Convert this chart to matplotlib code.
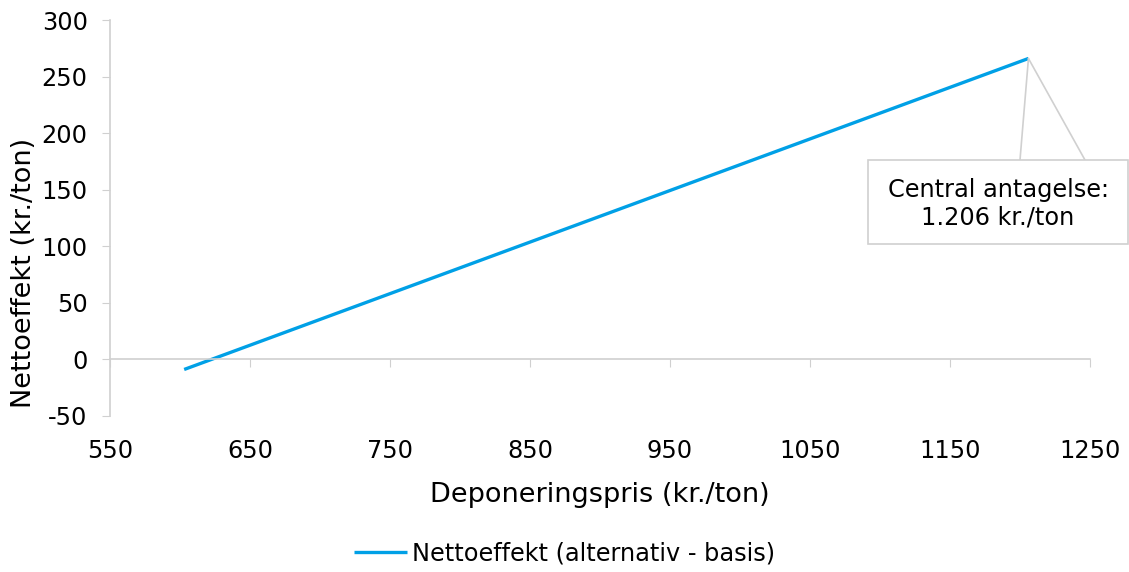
import matplotlib.pyplot as plt
from matplotlib.patches import Rectangle

# Net effect as a function of landfill price
deponeringspris = [603, 1206]
nettoeffekt = [-9, 266]
central_pris = 1206
central_effekt = 266

x_ticks = [550, 650, 750, 850, 950, 1050, 1150, 1250]
y_ticks = [-50, 0, 50, 100, 150, 200, 250, 300]

line_color = "#00a0e6"
grid_gray = "#d0d0d0"
plt.rcParams["font.family"] = "DejaVu Sans"
plt.rcParams["axes.unicode_minus"] = False

fig = plt.figure(figsize=(11.29, 5.72), dpi=100)
ax = fig.add_axes([0.0974, 0.273, 0.8681, 0.692])

ax.plot(deponeringspris, nettoeffekt, color=line_color, linewidth=2.4,
        solid_capstyle="butt", label="Nettoeffekt (alternativ - basis)")

ax.set_xlim(550, 1250)
ax.set_ylim(-50, 300)
ax.set_yticks(y_ticks)
ax.set_xticks(x_ticks)

# x axis line sits at zero, its labels stay at the bottom
for side in ["top", "right"]:
    ax.spines[side].set_visible(False)
ax.spines["left"].set_color(grid_gray)
ax.spines["bottom"].set_position(("data", 0))
ax.spines["bottom"].set_color(grid_gray)
ax.tick_params(axis="x", colors=grid_gray, length=6, labelbottom=False)
ax.tick_params(axis="y", colors=grid_gray, length=6, labelcolor="black",
               labelsize=17.3, pad=10)
ax.spines["left"].set_linewidth(1.2)
ax.spines["bottom"].set_linewidth(1.2)

sec = ax.secondary_xaxis("bottom")
sec.set_xticks(x_ticks)
sec.spines["bottom"].set_visible(False)
sec.tick_params(length=0, labelsize=17.3, labelcolor="black", pad=17)
sec.set_xlabel("Deponeringspris (kr./ton)", fontsize=19.5, labelpad=13)

ax.set_ylabel("Nettoeffekt (kr./ton)", fontsize=19.5)
ax.yaxis.set_label_coords(-0.074, 0.36)

# callout for the central assumption
box = Rectangle((0.7688, 0.5734), 0.2303, 0.1469, transform=fig.transFigure,
                facecolor="white", edgecolor=grid_gray, linewidth=1.2)
fig.patches.append(box)
fig.text(0.884, 0.6434, "Central antagelse:\n1.206 kr./ton", ha="center",
         va="center", fontsize=17.3, linespacing=1.2)
for px in [1020, 1085]:
    ax.annotate("", xy=(central_pris, central_effekt), xycoords="data",
                xytext=(px, 572 - 160), textcoords="figure pixels",
                arrowprops=dict(arrowstyle="-", color=grid_gray, lw=1.2,
                                shrinkA=0, shrinkB=0))

fig.legend(loc="center", bbox_to_anchor=(0.5, 0.033), frameon=False,
           fontsize=17.3, handlelength=2.2, handletextpad=0.2)

fig.savefig("out.png", dpi=100)
